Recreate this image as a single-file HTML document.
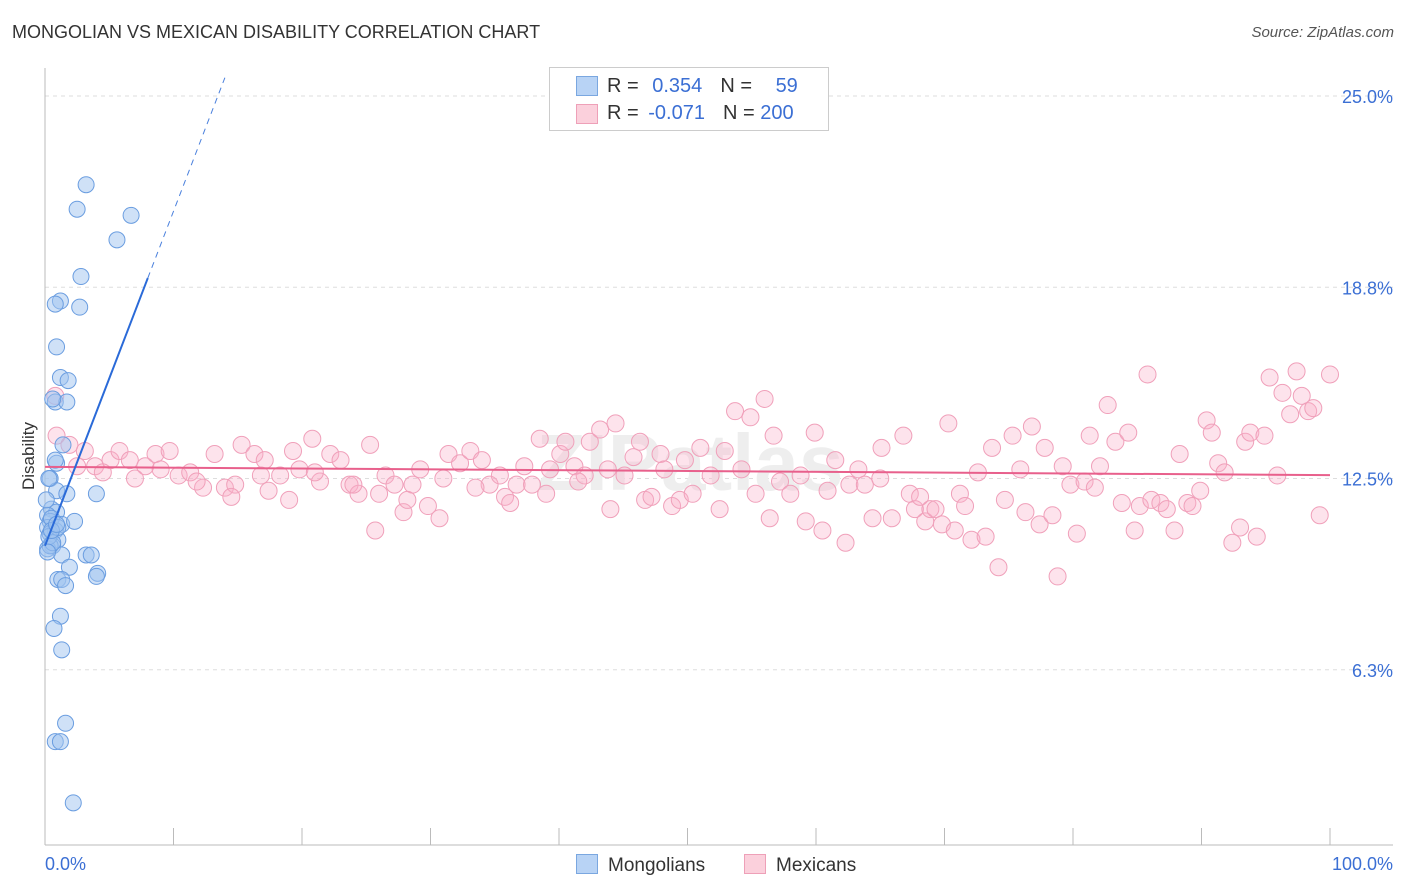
<!DOCTYPE html>
<html><head><meta charset="utf-8"><style>
body{margin:0;background:#fff;font-family:"Liberation Sans",sans-serif;}
#wrap{position:relative;width:1406px;height:892px;overflow:hidden;}
.t{position:absolute;white-space:nowrap;}
</style></head><body>
<div id="wrap">
<div class="t" style="left:12px;top:22px;font-size:18px;color:#333;">MONGOLIAN VS MEXICAN DISABILITY CORRELATION CHART</div>
<div class="t" style="right:12px;top:24px;font-size:15px;color:#555;font-style:italic;">Source: ZipAtlas.com</div>
<svg id="svg" width="1406" height="892" style="position:absolute;left:0;top:0"></svg>
<div class="t" style="left:549px;top:67px;width:278px;height:62px;border:1px solid #ccc;background:#fff;font-size:20px;">
 <div style="position:absolute;left:26px;top:8px;width:20px;height:18px;background:#b8d3f5;border:1px solid #7aa7e0"></div>
 <div class="t" style="left:57px;top:7px;color:#333">R = <span style="color:#3b6fd4;margin-left:8px">0.354</span><span style="color:#333;margin-left:18px">N = </span><span style="color:#3b6fd4;margin-left:18px">59</span></div>
 <div style="position:absolute;left:26px;top:36px;width:20px;height:18px;background:#fbd0dc;border:1px solid #eea0b8"></div>
 <div class="t" style="left:57px;top:34px;color:#333">R = <span style="color:#3b6fd4;margin-left:4px">-0.071</span><span style="color:#333;margin-left:18px">N = </span><span style="color:#3b6fd4">200</span></div>
</div>
<div class="t" style="left:576px;top:854px;font-size:19px;color:#333"><span style="display:inline-block;width:20px;height:18px;background:#b8d3f5;border:1px solid #7aa7e0;vertical-align:-3px;margin-right:10px"></span>Mongolians</div>
<div class="t" style="left:744px;top:854px;font-size:19px;color:#333"><span style="display:inline-block;width:20px;height:18px;background:#fbd0dc;border:1px solid #eea0b8;vertical-align:-3px;margin-right:10px"></span>Mexicans</div>
</div>
<script>
const yTicks=[25.0,18.8,12.5,6.3];
const yTickVals=[25,18.75,12.5,6.25];
const xLabels=["0.0%","100.0%"];
const blueX=[3.2,2.5,6.7,5.6,2.8,1.2,0.8,2.7,0.9,1.2,1.8,0.8,1.7,0.6,1.4,0.9,0.4,0.9,1.7,4.0,0.5,0.9,0.2,0.4,1.3,2.3,0.2,0.8,0.4,1.0,0.6,0.2,1.3,3.2,3.6,0.4,1.9,1.0,1.3,4.1,4.0,1.6,1.2,0.7,1.3,1.6,0.8,1.2,2.2,0.3,0.5,0.1,0.8,0.3,0.6,1.0,0.2,0.5,0.9];
const blueY=[22.1,21.3,21.1,20.3,19.1,18.3,18.2,18.1,16.8,15.8,15.7,15.0,15.0,15.1,13.6,13.0,12.5,12.1,12.0,12.0,11.5,11.4,11.3,11.1,11.0,11.1,10.9,10.8,10.7,10.5,10.3,10.2,10.0,10.0,10.0,10.3,9.6,9.2,9.2,9.4,9.3,9.0,8.0,7.6,6.9,4.5,3.9,3.9,1.9,12.5,11.2,11.8,13.1,10.6,10.4,10.9,10.1,10.8,11.0];
const pinkX=[0.8,0.9,1.9,3.1,3.9,5.1,5.8,6.6,7.8,8.6,9.7,10.4,11.3,12.3,13.2,14.0,14.8,15.3,16.3,17.1,17.4,18.3,19.3,19.8,20.8,21.4,22.2,23.0,23.7,24.4,25.3,25.7,26.5,27.2,27.9,28.6,29.2,29.8,30.7,31.4,32.3,33.1,34.0,34.6,35.4,35.8,36.7,37.3,37.9,38.5,39.3,40.1,40.5,41.2,42.0,42.4,43.2,43.8,44.4,45.1,45.8,46.3,46.7,47.2,47.9,48.2,48.8,49.4,49.8,50.4,51.0,51.8,52.5,52.9,53.7,54.2,54.9,55.3,56.0,56.4,56.7,57.2,58.0,58.8,59.2,59.9,60.5,60.9,61.5,62.3,62.6,63.3,63.8,64.4,65.0,65.1,65.9,66.8,67.3,67.7,68.1,68.5,68.9,69.3,69.8,70.3,70.8,71.2,71.6,72.1,72.6,73.2,73.7,74.2,74.7,75.3,75.9,76.3,76.8,77.4,77.8,78.4,78.8,79.2,79.8,80.3,80.9,81.3,81.7,82.1,82.7,83.3,83.8,84.3,84.8,85.2,85.8,86.1,86.8,87.3,87.9,88.3,88.9,89.3,89.9,90.4,90.8,91.3,91.8,92.4,93.0,93.4,93.8,94.3,94.9,95.3,95.9,96.3,96.9,97.4,97.8,98.3,98.7,99.2,100,2.5,4.5,7.0,9.0,11.8,14.5,16.8,19.0,21.0,24.0,26.0,28.2,31.0,33.5,36.2,39.0,41.5,44.0];
const pinkY=[15.2,13.9,13.6,13.4,12.9,13.1,13.4,13.1,12.9,13.3,13.4,12.6,12.7,12.2,13.3,12.2,12.3,13.6,13.3,13.1,12.1,12.6,13.4,12.8,13.8,12.4,13.3,13.1,12.3,12.0,13.6,10.8,12.6,12.3,11.4,12.3,12.8,11.6,11.2,13.3,13.0,13.4,13.1,12.3,12.6,11.9,12.3,12.9,12.3,13.8,12.8,13.3,13.7,12.9,12.6,13.7,14.1,12.8,14.3,12.6,13.2,13.7,11.8,11.9,13.3,12.8,11.6,11.8,13.1,12.0,13.5,12.6,11.5,13.4,14.7,12.8,14.5,12.0,15.1,11.2,13.9,12.4,12.0,12.6,11.1,14.0,10.8,12.1,13.1,10.4,12.3,12.8,12.3,11.2,12.5,13.5,11.2,13.9,12.0,11.5,11.9,11.1,11.5,11.5,11.0,14.3,10.8,12.0,11.6,10.5,12.7,10.6,13.5,9.6,11.8,13.9,12.8,11.4,14.2,11.0,13.5,11.3,9.3,12.9,12.3,10.7,12.4,13.9,12.2,12.9,14.9,13.7,11.7,14.0,10.8,11.6,15.9,11.8,11.7,11.5,10.8,13.3,11.7,11.6,12.1,14.4,14.0,13.0,12.7,10.4,10.9,13.7,14.0,10.6,13.9,15.8,12.6,15.3,14.6,16.0,15.2,14.7,14.8,11.3,15.9,12.9,12.7,12.5,12.8,12.4,11.9,12.6,11.8,12.7,12.3,12.0,11.8,12.5,12.2,11.7,12.0,12.4,11.5];
const blueTrend=[[0,10.3],[8.0,19.05]];
const blueDash=[[8.0,19.05],[14.0,25.6]];
const pinkTrend=[[0,12.88],[100,12.61]];
const X0=45,X1=1330,Y0=861,PY=30.6;
const sx=v=>X0+(X1-X0)*v/100, sy=v=>Y0-v*PY;
const svg=document.getElementById('svg');const NS='http://www.w3.org/2000/svg';
function mk(t,a,name){const e=document.createElementNS(NS,t);for(const k in a)e.setAttribute(k,a[k]);


svg.appendChild(e);return e;}
yTickVals.forEach((v,i)=>{mk('line',{x1:45,x2:1393,y1:sy(v),y2:sy(v),stroke:'#ddd','stroke-dasharray':'4,4'},'gridline');
const t=mk('text',{x:1393,y:sy(v)+7,'text-anchor':'end','font-size':18,fill:'#3b6fd4','font-family':'Liberation Sans'},'y-tick-label');t.textContent=yTicks[i].toFixed(1)+'%';});
mk('line',{x1:45,x2:45,y1:68,y2:845,stroke:'#bbb'},'y-axis');
mk('line',{x1:45,x2:1393,y1:845,y2:845,stroke:'#bbb'},'x-axis');
for(let i=0;i<=10;i++)mk('line',{x1:sx(i*10),x2:sx(i*10),y1:828,y2:845,stroke:'#bbb'},'x-tick');
let t=mk('text',{x:45,y:870,'font-size':18,fill:'#3b6fd4','font-family':'Liberation Sans'},'x-tick-label');t.textContent=xLabels[0];
t=mk('text',{x:1393,y:870,'text-anchor':'end','font-size':18,fill:'#3b6fd4','font-family':'Liberation Sans'},'x-tick-label');t.textContent=xLabels[1];
t=mk('text',{x:34,y:456,'text-anchor':'middle','font-size':17,fill:'#333','font-family':'Liberation Sans',transform:'rotate(-90 34 456)'},'y-axis-title');t.textContent='Disability';
t=mk('text',{x:690,y:490,'text-anchor':'middle','font-size':80,fill:'#eee','font-weight':'bold','font-family':'Liberation Sans'},'watermark');t.textContent='ZIPatlas';
pinkX.forEach((x,i)=>mk('circle',{cx:sx(x),cy:sy(pinkY[i]),r:8.5,fill:'rgba(248,175,200,0.35)',stroke:'#f0a0ba','stroke-width':1},'mexican-point'));
blueX.forEach((x,i)=>mk('circle',{cx:sx(x),cy:sy(blueY[i]),r:8,fill:'rgba(160,195,240,0.5)',stroke:'#6a9de0','stroke-width':1},'mongolian-point'));
mk('line',{x1:sx(pinkTrend[0][0]),y1:sy(pinkTrend[0][1]),x2:sx(pinkTrend[1][0]),y2:sy(pinkTrend[1][1]),stroke:'#e8608c','stroke-width':2},'mexican-trendline');
mk('line',{x1:sx(blueTrend[0][0]),y1:sy(blueTrend[0][1]),x2:sx(blueTrend[1][0]),y2:sy(blueTrend[1][1]),stroke:'#2a6ad8','stroke-width':2},'mongolian-trendline');
mk('line',{x1:sx(blueDash[0][0]),y1:sy(blueDash[0][1]),x2:sx(blueDash[1][0]),y2:sy(blueDash[1][1]),stroke:'#4a80dd','stroke-width':1,'stroke-dasharray':'6,5'},'mongolian-trend-extension');
</script>
</body></html>
